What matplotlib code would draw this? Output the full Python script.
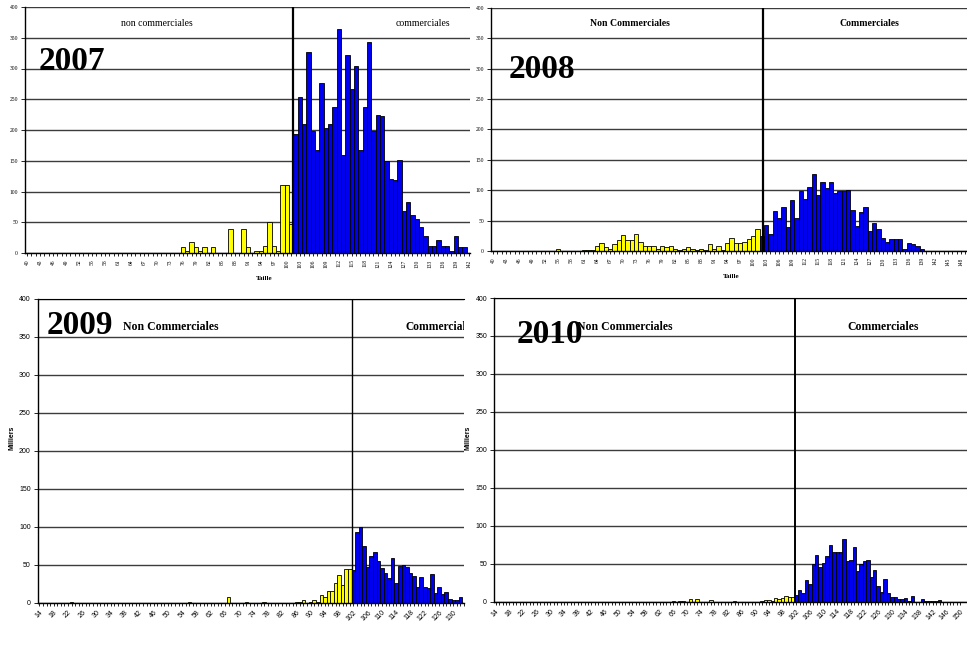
import matplotlib
matplotlib.use('Agg')
import matplotlib.pyplot as plt

W, H = 967, 661

# ---- data: size class (cm) -> thousands of fish ----
# 2007
nc07_sizes = [76, 77, 78, 79, 80, 81, 83, 87, 90, 91, 93, 94, 95, 96, 97, 98, 99, 100, 101]
nc07_vals = [9, 4, 18, 9, 4, 9, 9, 39, 39, 9, 4, 4, 12, 51, 12, 4, 110, 110, 47]
co07_sizes = list(range(102, 142))
co07_vals = [193, 253, 209, 327, 199, 167, 276, 203, 210, 238,
             364, 160, 322, 266, 304, 168, 238, 343, 198, 224,
             222, 150, 121, 118, 152, 69, 83, 62, 56, 43,
             28, 11, 11, 21, 11, 11, 4, 28, 9, 9]

# 2008
nc08_sizes = [55, 61, 62, 63] + list(range(64, 102))
nc08_vals = [3, 2, 2, 2,
             9, 13, 7, 4, 11, 18, 26, 18, 18, 28,
             15, 9, 9, 9, 4, 9, 7, 9, 4, 2,
             4, 7, 4, 2, 4, 2, 11, 4, 9, 2,
             13, 22, 13, 13, 15, 20, 25, 37]
co08_sizes = list(range(102, 140))
co08_vals = [25, 43, 28, 66, 55, 73, 40, 84, 55, 99,
             85, 105, 126, 92, 114, 104, 114, 95, 98, 98,
             100, 67, 41, 65, 72, 33, 46, 37, 22, 15,
             20, 20, 20, 4, 13, 11, 9, 3]

# 2009
nc09_sizes = [23, 56, 67, 72, 77, 86, 87, 88, 90, 91, 92, 93, 94, 95, 96, 97, 98, 99, 100, 101]
nc09_vals = [1, 1, 8, 1, 1, 1, 1, 3, 1, 4, 1, 10, 8, 15, 16, 26, 36, 23, 44, 44]
co09_sizes = list(range(102, 133))
co09_vals = [43, 93, 99, 75, 47, 61, 67, 55, 46, 39,
             33, 59, 26, 48, 49, 47, 39, 35, 21, 34,
             21, 19, 38, 13, 21, 11, 14, 5, 3, 4, 7]

# 2010
nc10_sizes = [66, 68, 69, 71, 73, 77, 84, 92, 93, 94, 95, 96, 97, 98, 99, 100, 101]
nc10_vals = [1, 1, 1, 3, 3, 2, 1, 1, 2, 2, 1, 5, 3, 5, 8, 6, 6]
co10_sizes = list(range(102, 146))
co10_vals = [9, 15, 12, 29, 23, 49, 62, 46, 51, 60,
             75, 65, 65, 65, 83, 54, 55, 72, 41, 49,
             53, 55, 33, 42, 21, 13, 30, 12, 6, 6,
             3, 3, 5, 1, 7, 0, 0, 3, 1, 1,
             1, 1, 2, 0]

top_cats = list(range(40, 150))
bottom_cats = list(range(14, 151))

YELLOW = '#FFFF00'
BLUE = '#0000F0'
SERIF = 'Liberation Serif'
SANS = 'Liberation Sans'


def px_axes(fig, left, right, top, bottom):
    return fig.add_axes([left / W, 1 - bottom / H, (right - left) / W, (bottom - top) / H])


def ftext(fig, x, y, s, **kw):
    fig.text(x / W, 1 - y / H, s, **kw)


def draw_panel(ax, nc_s, nc_v, co_s, co_v, cats, step, xlim, divider, div_lw,
               tick_font, tick_size, rot):
    ax.bar(nc_s, nc_v, width=1.0, color=YELLOW, edgecolor='black', linewidth=0.6, zorder=2)
    ax.bar(co_s, co_v, width=1.0, color=BLUE, edgecolor='black', linewidth=0.6, zorder=2)
    ax.axvline(divider, color='black', linewidth=div_lw, zorder=3)
    ax.set_xlim(*xlim)
    ax.set_ylim(0, 400)
    ax.set_yticks(range(0, 401, 50))
    ax.yaxis.grid(True, color='#3c3c3c', linewidth=1.0)
    ax.set_axisbelow(True)
    ax.set_xticks(cats)
    labels = [str(c) if (c - cats[0]) % step == 0 else '' for c in cats]
    if rot == 90:
        ax.set_xticklabels(labels, rotation=90, fontsize=tick_size, family=tick_font,
                           va='top', ha='center')
    else:
        ax.set_xticklabels(labels, rotation=45, fontsize=tick_size, family=tick_font,
                           ha='right', va='top', rotation_mode='anchor')
    for lab in ax.get_yticklabels():
        lab.set_fontsize(tick_size)
        lab.set_family(tick_font)
    ax.tick_params(axis='x', length=2, width=0.6, pad=2.5)
    ax.tick_params(axis='y', length=3, width=0.6, pad=2)
    for side in ('right', 'top'):
        ax.spines[side].set_visible(False)
    for side in ('left', 'bottom'):
        ax.spines[side].set_linewidth(1.0)
        ax.spines[side].set_color('black')


fig = plt.figure(figsize=(W / 100, H / 100), dpi=100)
fig.patch.set_facecolor('white')

# 2007
ax1 = px_axes(fig, 25, 470, 7, 253)
draw_panel(ax1, nc07_sizes, nc07_vals, co07_sizes, co07_vals, top_cats[:103], 3,
           (39.5, 142.3), 101.5, 1.6, SERIF, 4, 90)

# 2008
ax2 = px_axes(fig, 491, 967, 8, 251)
draw_panel(ax2, nc08_sizes, nc08_vals, co08_sizes, co08_vals, top_cats, 3,
           (39.5, 149.4), 102.2, 1.6, SERIF, 4, 90)

# 2009
ax3 = px_axes(fig, 37.7, 464, 298.7, 602.7)
draw_panel(ax3, nc09_sizes, nc09_vals, co09_sizes, co09_vals, bottom_cats[:120], 4,
           (13.5, 132.2), 101.5, 1.0, SANS, 5, 45)
ax3.spines['top'].set_visible(True)

# 2010
ax4 = px_axes(fig, 494, 967, 298, 601.7)
draw_panel(ax4, nc10_sizes, nc10_vals, co10_sizes, co10_vals, bottom_cats, 4,
           (13.5, 152.0), 101.5, 1.4, SANS, 5, 45)
ax4.spines['top'].set_visible(True)

# section labels
ftext(fig, 157, 24, 'non commerciales', family=SERIF, fontsize=7, ha='center', va='center')
ftext(fig, 423, 24, 'commerciales', family=SERIF, fontsize=7, ha='center', va='center')
ftext(fig, 630, 23, 'Non Commerciales', family=SERIF, fontsize=7, fontweight='bold',
      ha='center', va='center')
ftext(fig, 869, 23, 'Commerciales', family=SERIF, fontsize=7, fontweight='bold',
      ha='center', va='center')
ftext(fig, 123, 327, 'Non Commerciales', family=SERIF, fontsize=8.5, fontweight='bold',
      ha='left', va='center')
ax3.text(406 / W, 1 - 327 / H, 'Commerciales', transform=fig.transFigure, family=SERIF,
         fontsize=8.3, fontweight='bold', ha='left', va='center', clip_on=True)
ftext(fig, 577, 327, 'Non Commerciales', family=SERIF, fontsize=8.5, fontweight='bold',
      ha='left', va='center')
ftext(fig, 883, 327, 'Commerciales', family=SERIF, fontsize=8.5, fontweight='bold',
      ha='center', va='center')

# years
ftext(fig, 72, 62, '2007', family=SERIF, fontsize=24, fontweight='bold', ha='center', va='center')
ftext(fig, 542, 69, '2008', family=SERIF, fontsize=24, fontweight='bold', ha='center', va='center')
ftext(fig, 80, 326, '2009', family=SERIF, fontsize=24, fontweight='bold', ha='center', va='center')
ftext(fig, 550, 335, '2010', family=SERIF, fontsize=24, fontweight='bold', ha='center', va='center')

# axis titles
ftext(fig, 264, 278, 'Taille', family=SERIF, fontsize=5, fontweight='bold', ha='center', va='center')
ftext(fig, 731, 276, 'Taille', family=SERIF, fontsize=5, fontweight='bold', ha='center', va='center')
ftext(fig, 12, 438, 'Milliers', family=SANS, fontsize=5, fontweight='bold', rotation=90,
      ha='center', va='center')
ftext(fig, 468, 438, 'Milliers', family=SANS, fontsize=5, fontweight='bold', rotation=90,
      ha='center', va='center')

fig.savefig('out.png', dpi=100)
